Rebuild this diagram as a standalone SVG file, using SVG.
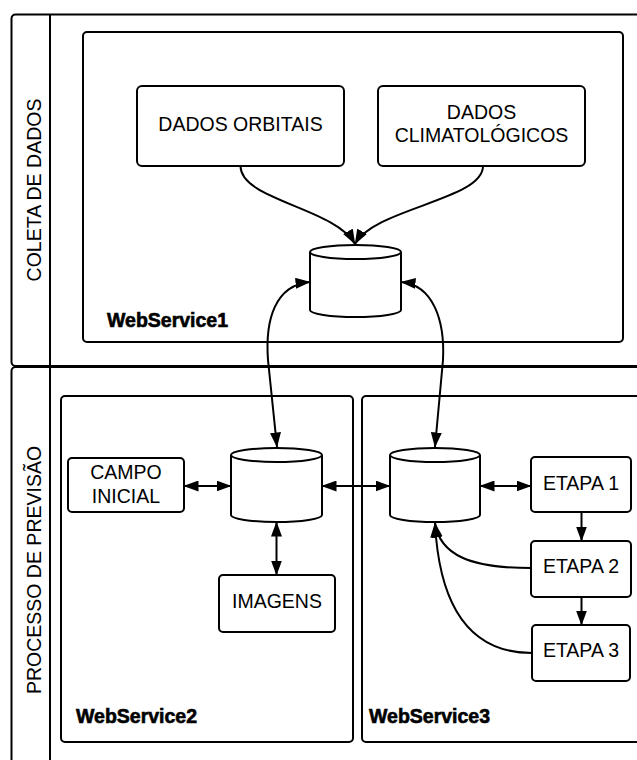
<svg xmlns="http://www.w3.org/2000/svg" width="637" height="760" viewBox="0 0 637 760">
<defs>
<style>
.pool{fill:#fff;stroke:#000;stroke-width:2}
.box{fill:#fff;stroke:#000;stroke-width:2}
.cyl{fill:#fff;stroke:#000;stroke-width:2}
.t{font-family:"Liberation Sans",Arial,sans-serif;font-size:19.5px;text-anchor:middle;fill:#000}
.ws{font-family:"Liberation Sans",Arial,sans-serif;font-size:19.5px;font-weight:bold;fill:#000;stroke:#000;stroke-width:0.6}
.e{fill:none;stroke:#000;stroke-width:2}
</style>
<marker id="ah" viewBox="0 0 15 11" refX="14.5" refY="5.5" markerWidth="15" markerHeight="11" markerUnits="userSpaceOnUse" orient="auto-start-reverse">
<path d="M0,0 L15,5.5 L0,11 Z" fill="#000"/>
</marker>
</defs>
<rect width="637" height="760" fill="#fff"/>

<g id="pool-coleta">
<rect class="pool" x="11.5" y="14.5" width="650" height="351.5" rx="4"/>
<line x1="50" y1="14.5" x2="50" y2="366" stroke="#000" stroke-width="2"/>
<text class="t" transform="translate(40.5,190) rotate(-90)">COLETA DE DADOS</text>
</g>
<g id="pool-processo">
<rect class="pool" x="11.5" y="367" width="650" height="420" rx="4"/>
<line x1="50" y1="367" x2="50" y2="787" stroke="#000" stroke-width="2"/>
<text class="t" transform="translate(40.5,570) rotate(-90)">PROCESSO DE PREVISÃO</text>
</g>

<g id="ws1">
<rect class="box" x="83" y="32" width="540" height="310" rx="4"/>
<text class="ws" x="107" y="326.5">WebService1</text>
</g>
<g id="ws2">
<rect class="box" x="61" y="396" width="292" height="346" rx="4"/>
<text class="ws" x="76" y="723">WebService2</text>
</g>
<g id="ws3">
<rect class="box" x="362" y="396" width="300" height="346" rx="4"/>
<text class="ws" x="369" y="723">WebService3</text>
</g>

<g id="dados-orbitais">
<rect class="box" x="137" y="86" width="207" height="80" rx="5"/>
<text class="t" x="240.5" y="131">DADOS ORBITAIS</text>
</g>
<g id="dados-climatologicos">
<rect class="box" x="378" y="86" width="207" height="80" rx="5"/>
<text class="t" x="481.5" y="118.5">DADOS</text>
<text class="t" x="481.5" y="141.5">CLIMATOLÓGICOS</text>
</g>

<g id="db1">
<path class="cyl" d="M310,252 A45.5,7 0 0 1 401,252 L401,310 A45.5,7 0 0 1 310,310 Z"/>
<path class="e" d="M310,252 A45.5,7 0 0 0 401,252"/>
</g>
<g id="db2">
<path class="cyl" d="M231,455 A45.5,7 0 0 1 322,455 L322,515 A45.5,7 0 0 1 231,515 Z"/>
<path class="e" d="M231,455 A45.5,7 0 0 0 322,455"/>
</g>
<g id="db3">
<path class="cyl" d="M390,455 A45,7 0 0 1 480,455 L480,515 A45,7 0 0 1 390,515 Z"/>
<path class="e" d="M390,455 A45,7 0 0 0 480,455"/>
</g>

<g id="campo-inicial">
<rect class="box" x="68" y="458" width="116" height="54" rx="4"/>
<text class="t" x="126" y="478.5">CAMPO</text>
<text class="t" x="126" y="502.5">INICIAL</text>
</g>
<g id="imagens">
<rect class="box" x="219" y="575" width="116" height="57" rx="4"/>
<text class="t" x="277" y="607.5">IMAGENS</text>
</g>
<g id="etapa1">
<rect class="box" x="531" y="457" width="100" height="55" rx="4"/>
<text class="t" x="581" y="489.5">ETAPA 1</text>
</g>
<g id="etapa2">
<rect class="box" x="531" y="541" width="100" height="56" rx="4"/>
<text class="t" x="581" y="573">ETAPA 2</text>
</g>
<g id="etapa3">
<rect class="box" x="532" y="625" width="98" height="56" rx="4"/>
<text class="t" x="581" y="657">ETAPA 3</text>
</g>

<g id="connectors">
<path class="e" d="M240.5,166 C240.5,200 335,208 355,244" marker-end="url(#ah)"/>
<path class="e" d="M483,166 C483,200 375,208 355,244" marker-end="url(#ah)"/>
<path class="e" d="M310,282 C275,285 265,320 268,360 L277,447" marker-start="url(#ah)" marker-end="url(#ah)"/>
<path class="e" d="M401,282 C433,285 445,320 443,360 L435,447" marker-start="url(#ah)" marker-end="url(#ah)"/>
<path class="e" d="M184,486 L231,486" marker-start="url(#ah)" marker-end="url(#ah)"/>
<path class="e" d="M322,486 L390,486" marker-start="url(#ah)" marker-end="url(#ah)"/>
<path class="e" d="M480,486 L531,486" marker-start="url(#ah)" marker-end="url(#ah)"/>
<path class="e" d="M276.5,522 L276.5,575" marker-start="url(#ah)" marker-end="url(#ah)"/>
<path class="e" d="M581.5,512 L581.5,541" marker-end="url(#ah)"/>
<path class="e" d="M581.5,597 L581.5,625" marker-end="url(#ah)"/>
<path class="e" d="M531,568 C470,568 440,555 435,523" marker-end="url(#ah)"/>
<path class="e" d="M532,653 C480,653 440,620 435,523" marker-end="url(#ah)"/>
</g>
</svg>
